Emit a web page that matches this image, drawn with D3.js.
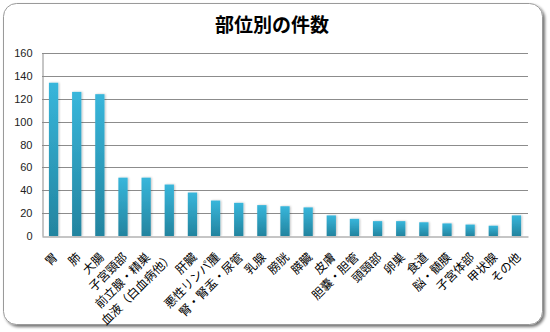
<!DOCTYPE html>
<html>
<head>
<meta charset="utf-8">
<script src="https://cdn.jsdelivr.net/npm/d3@7"></script>
<style>
  html, body { margin: 0; padding: 0; background: #fff; }
  svg { display: block; }
</style>
</head>
<body>
<svg id="chart" width="550" height="332"></svg>
<script>
// Cases by site
const categories = ["胃", "肺", "大腸", "子宮頸部", "前立腺・精巣", "血液（白血病他）", "肝臓",
  "悪性リンパ腫", "腎・腎盂・尿管", "乳腺", "膀胱", "膵臓", "皮膚", "胆嚢・胆管", "頭頸部",
  "卵巣", "食道", "脳・髄膜", "子宮体部", "甲状腺", "その他"];
const counts = [134, 126, 124, 51, 51, 45, 38, 31, 29, 27, 26, 25, 18, 15, 13, 13, 12, 11, 10, 9, 18];
const yTicks = [0, 20, 40, 60, 80, 100, 120, 140, 160];
const title = "部位別の件数";

const svg = d3.select("#chart");
const plot = { left: 42, right: 528, top: 53, bottom: 236 };

const defs = svg.append("defs");
const shadow = defs.append("filter").attr("id", "frameShadow")
  .attr("x", "-5%").attr("y", "-5%").attr("width", "112%").attr("height", "115%");
shadow.append("feGaussianBlur").attr("in", "SourceAlpha").attr("stdDeviation", 1.6);
shadow.append("feOffset").attr("dx", 2).attr("dy", 2).attr("result", "off");
shadow.append("feComponentTransfer").append("feFuncA").attr("type", "linear").attr("slope", 0.55);
const m = shadow.append("feMerge");
m.append("feMergeNode");
m.append("feMergeNode").attr("in", "SourceGraphic");

const grad = defs.append("linearGradient").attr("id", "barFill")
  .attr("x1", 0).attr("y1", 0).attr("x2", 0).attr("y2", 1);
grad.append("stop").attr("offset", "0%").attr("stop-color", "#38b6db");
grad.append("stop").attr("offset", "100%").attr("stop-color", "#23849f");

const barShadow = defs.append("filter").attr("id", "barShadow")
  .attr("x", "-30%").attr("y", "-10%").attr("width", "160%").attr("height", "120%");
barShadow.append("feGaussianBlur").attr("in", "SourceAlpha").attr("stdDeviation", 0.8);
barShadow.append("feOffset").attr("dx", 1).attr("dy", 0).attr("result", "o");
barShadow.append("feComponentTransfer").append("feFuncA").attr("type", "linear").attr("slope", 0.25);
const bm = barShadow.append("feMerge");
bm.append("feMergeNode");
bm.append("feMergeNode").attr("in", "SourceGraphic");

// Chart frame
svg.append("rect")
  .attr("x", 3.5).attr("y", 3.5).attr("width", 539).attr("height", 321)
  .attr("rx", 13).attr("ry", 13)
  .attr("fill", "#fff").attr("stroke", "#9a9a9a").attr("stroke-width", 1)
  .attr("filter", "url(#frameShadow)");

// Title
svg.append("text")
  .attr("x", 272).attr("y", 32)
  .attr("text-anchor", "middle")
  .attr("font-family", "'Noto Sans CJK JP', sans-serif")
  .attr("font-weight", "bold")
  .attr("font-size", 19)
  .attr("fill", "#000")
  .text(title);

const x = d3.scaleBand().domain(categories).range([plot.left, plot.right]).paddingInner(0.6).paddingOuter(0.3);
const y = d3.scaleLinear().domain([0, 160]).range([plot.bottom, plot.top]);

// Gridlines
svg.append("g")
  .selectAll("line")
  .data(yTicks.filter(d => d > 0))
  .join("line")
  .attr("x1", plot.left).attr("x2", plot.right)
  .attr("y1", d => Math.round(y(d)) + 0.5).attr("y2", d => Math.round(y(d)) + 0.5)
  .attr("stroke", "#8c8c8c").attr("stroke-width", 1);

// Y axis
const yAxis = svg.append("g")
  .attr("transform", `translate(${plot.left + 0.5},0)`)
  .call(d3.axisLeft(y).tickValues(yTicks).tickSize(0).tickPadding(10));
yAxis.select(".domain").attr("stroke", "#8c8c8c");
yAxis.selectAll("text")
  .attr("font-family", "'Liberation Sans', Arial, sans-serif")
  .attr("font-size", 11)
  .attr("fill", "#222");

// Bars
svg.append("g")
  .selectAll("rect")
  .data(categories.map((c, i) => ({ c, v: counts[i] })))
  .join("rect")
  .attr("x", d => x(d.c))
  .attr("y", d => y(d.v))
  .attr("width", x.bandwidth())
  .attr("height", d => y(0) - y(d.v))
  .attr("fill", "url(#barFill)")
  .attr("filter", "url(#barShadow)");

// X axis
const xAxis = svg.append("g")
  .attr("transform", `translate(0,${Math.round(plot.bottom) + 0.5})`)
  .call(d3.axisBottom(x).tickSize(0).tickFormat(""));
xAxis.select(".domain").attr("stroke", "#8c8c8c");

svg.append("g")
  .selectAll("text")
  .data(categories)
  .join("text")
  .attr("transform", d => `translate(${x(d) + x.bandwidth() / 2 + 2},${plot.bottom + 19}) rotate(-45)`)
  .attr("text-anchor", "end")
  .attr("dy", "0.35em")
  .attr("font-family", "'Noto Sans CJK JP', sans-serif")
  .attr("font-size", 12)
  .attr("fill", "#000")
  .text(d => d);
</script>
</body>
</html>
